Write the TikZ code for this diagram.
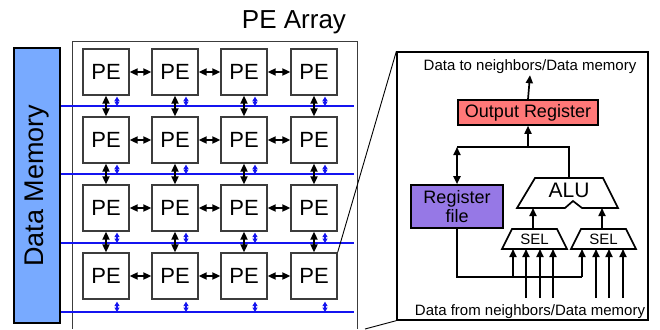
\documentclass[tikz,border=0pt]{standalone}
\usepackage{fontspec}
\setmainfont{Liberation Sans}
\usetikzlibrary{arrows.meta, positioning, calc}
\definecolor{memblue}{RGB}{120, 170, 255}
\definecolor{outred}{RGB}{255, 120, 120}
\definecolor{regpurple}{RGB}{150, 120, 230}
\definecolor{busblue}{RGB}{20, 20, 240}
\definecolor{pegray}{RGB}{60, 60, 60}

\tikzset{
  pebox/.style={draw=pegray, line width=1.3pt, minimum width=46, minimum height=46,
    inner sep=0pt, font=\fontsize{22}{22}\selectfont},
  blkbox/.style={draw, line width=1.6pt, inner sep=0pt, font=\fontsize{18}{19}\selectfont},
  link/.style={line width=1.8pt, {Triangle[length=8pt,width=7pt]}-{Triangle[length=8pt,width=7pt]}},
  buslink/.style={busblue, line width=1.4pt, {Triangle[length=4.5pt,width=5pt]}-{Triangle[length=4.5pt,width=5pt]}},
  wire/.style={line width=1.7pt},
  inwire/.style={line width=1.7pt, -{Triangle[length=8pt,width=7pt]}},
  small/.style={font=\fontsize{15}{15}\selectfont, inner sep=1pt},
}

\begin{document}
\begin{tikzpicture}[x=1pt, y=-1pt]
  \useasboundingbox (0,0) rectangle (660,329);
  % array frame and memory
  \draw[pegray, line width=0.9pt] (72,329) -- (72,41) -- (357,41) -- (357,329);
  \node[font=\fontsize{26}{26}\selectfont] (title) at (294,22) {PE Array};
  \node[draw, line width=2pt, fill=memblue, minimum width=46, minimum height=275,
    inner sep=0pt] (mem) at (37,185.5) {};
  \node[rotate=90, font=\fontsize{27}{27}\selectfont] (memlabel) at (mem.center) {Data Memory};

  % PE grid
  \foreach \r/\y in {1/72, 2/140, 3/208, 4/276}
    \foreach \c/\x in {1/106, 2/175, 3/244, 4/314}
      \node[pebox] (pe-\r-\c) at (\x,\y) {PE};

  % data buses
  \foreach \r/\y/\d in {1/106/1, 2/174/1, 3/243/1, 4/312/2} {
    \coordinate (bus-\r-l) at (mem.east |- 0,\y);
    \coordinate (bus-\r-r) at (354,\y);
    \draw[busblue, line width=1.4pt] (bus-\r-l) -- (bus-\r-r);
    \foreach \c in {1,...,4} {
      \coordinate (tap-\r-\c) at ($(pe-\r-\c.south)+(11,\d)$);
      \draw[buslink] (tap-\r-\c) -- (tap-\r-\c |- bus-\r-l);
    }
  }

  % neighbour links
  \foreach \r in {1,...,4}
    \foreach \c/\n in {1/2, 2/3, 3/4}
      \draw[link] (pe-\r-\c.east) -- (pe-\r-\n.west);
  \foreach \r/\n in {1/2, 2/3, 3/4}
    \foreach \c in {1,...,4}
      \draw[link] (pe-\r-\c.south) -- (pe-\n-\c.north);

  % zoom into one PE
  \node[draw, line width=1.3pt, minimum width=251, minimum height=268, inner sep=0pt]
    (detail) at (522.5,186) {};
  \draw[line width=0.9pt] (pe-4-4.north east) -- (detail.north west);
  \draw[line width=0.9pt] (detail.south west) -- (365,329);

  % PE internals
  \node[small] (totext) at (530,67) {Data to neighbors/Data memory};
  \node[blkbox, fill=outred, minimum width=140, minimum height=25] (outreg) at (528,112.5) {Output Register};
  \node[blkbox, fill=regpurple, minimum width=92, minimum height=43, align=center]
    (regfile) at (457,206.5) {Register\\file};
  \draw[wire] (535,178) -- (603,178) -- (618,208) -- (582,208) -- (573,201) -- (565,208)
    -- (517,208) -- cycle;
  \node[font=\fontsize{21}{21}\selectfont] (alu) at (569,190) {ALU};
  \coordinate (alu-top) at (569,178);
  \coordinate (alu-l) at (533,208);
  \coordinate (alu-r) at (602,208);
  \foreach \s/\x in {l/534.5, r/603.5} {
    \draw[wire] (\x-22.5,229) -- (\x+22.5,229) -- (\x+32.5,249) -- (\x-32.5,249) -- cycle;
    \node[font=\fontsize{15}{15}\selectfont] (sel-\s) at (\x,239.5) {SEL};
    \coordinate (sel-\s-top) at (\x-1.5,229);
  }
  \draw[inwire] (sel-l-top) -- (alu-l);
  \draw[inwire] (sel-r-top) -- (alu-r);

  \coordinate (bus-left) at (regfile.north |- 0,147);
  \coordinate (bus-mid) at (outreg.south |- 0,147);
  \draw[wire] (alu-top) |- (bus-left);
  \draw[inwire] (bus-mid) -- (outreg.south);
  \draw[link] (bus-left) -- (regfile.north);
  \draw[inwire] (outreg.north) -- (totext.south);

  % register file feedback
  \coordinate (rf-low) at (regfile.south |- 0,277);
  \draw[wire] (regfile.south) -- (rf-low) -- (582,277);
  \draw[inwire] (582,277) -- (582,249);
  \draw[inwire] (513,277) -- (513,249);

  % external inputs
  \node[small] (fromtext) at (530,312) {Data from neighbors/Data memory};
  \foreach \x in {526, 540, 553, 596, 609, 623}
    \draw[inwire] (\x,298) -- (\x,249);
\end{tikzpicture}
\end{document}
